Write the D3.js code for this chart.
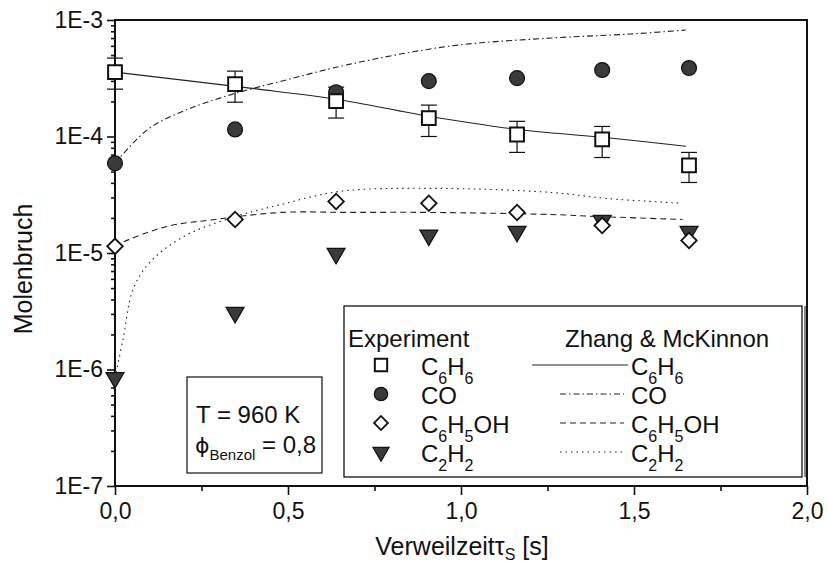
<!DOCTYPE html>
<html>
<head>
<meta charset="utf-8">
<script src="https://cdn.jsdelivr.net/npm/d3@7"></script>
<style>
  body { margin: 0; background: #fff; }
  svg text { font-family: "Liberation Sans", Arial, sans-serif; fill: #111; }
</style>
</head>
<body>
<svg id="chart" width="828" height="563"></svg>
<script>
// measured points (Verweilzeit in s, Molenbruch)
var time = [0, 0.347, 0.639, 0.907, 1.162, 1.408, 1.659];
var c6h6 = [3.57e-4, 2.81e-4, 2.01e-4, 1.44e-4, 1.04e-4, 9.46e-5, 5.66e-5];
var c6h6Hi = [4.71e-4, 3.64e-4, 2.65e-4, 1.86e-4, 1.35e-4, 1.22e-4, 7.3e-5];
var c6h6Lo = [2.55e-4, 1.97e-4, 1.44e-4, 1.0e-4, 7.3e-5, 6.6e-5, 4.03e-5];
var co = [5.89e-5, 1.15e-4, 2.40e-4, 2.99e-4, 3.17e-4, 3.72e-4, 3.87e-4];
var phenol = [1.14e-5, 1.94e-5, 2.77e-5, 2.67e-5, 2.23e-5, 1.72e-5, 1.28e-5];
var c2h2 = [8.5e-7, 3.08e-6, 9.9e-6, 1.42e-5, 1.53e-5, 1.90e-5, 1.53e-5];

// model (Zhang & McKinnon)
var c6h6ModelT = [0, 0.39, 0.639, 0.907, 1.162, 1.408, 1.65];
var c6h6Model = [3.57e-4, 2.60e-4, 2.09e-4, 1.49e-4, 1.15e-4, 9.86e-5, 8.24e-5];
var coModelT = [0, 0.02, 0.10, 0.21, 0.34, 0.48, 0.68, 0.97, 1.26, 1.49, 1.65];
var coModel = [5.89e-5, 6.9e-5, 1.18e-4, 1.71e-4, 2.31e-4, 2.98e-4, 4.18e-4, 5.98e-4, 7.0e-4, 7.58e-4, 8.2e-4];
var phenolModelT = [0, 0.02, 0.15, 0.29, 0.48, 0.68, 0.91, 1.26, 1.39, 1.64];
var phenolModel = [1.14e-5, 1.23e-5, 1.69e-5, 1.94e-5, 2.23e-5, 2.23e-5, 2.23e-5, 2.14e-5, 2.06e-5, 1.94e-5];
var c2h2ModelT = [0, 0.023, 0.052, 0.10, 0.20, 0.34, 0.48, 0.65, 0.91, 1.26, 1.42, 1.64];
var c2h2Model = [8.5e-7, 1.80e-6, 4.85e-6, 8.28e-6, 1.39e-5, 2.02e-5, 2.61e-5, 3.38e-5, 3.59e-5, 3.31e-5, 2.94e-5, 2.67e-5];

var xTicks = [0, 0.5, 1.0, 1.5, 2.0];
var xMinor = [0.25, 0.75, 1.25, 1.75];
var yTicks = [1e-7, 1e-6, 1e-5, 1e-4, 1e-3];
var legendNames = ["C_6H_6", "CO", "C_6H_5OH", "C_2H_2"];

var svg = d3.select("#chart");
var pLeft = 115, pRight = 807, pTop = 20, pBottom = 486;

var x = d3.scaleLinear().domain([0, 2]).range([pLeft, pRight]);
var y = d3.scaleLog().domain([1e-7, 1e-3]).range([pBottom, pTop]);

// minor y ticks 2..9 per decade
var yMinor = [];
yTicks.slice(0, -1).forEach(function (d) {
    for (var k = 2; k <= 9; k++) yMinor.push(d * k);
});

// axes
var gx = svg.append("g").attr("transform", "translate(0," + pBottom + ")");
gx.append("g").call(d3.axisBottom(x).tickValues(xMinor).tickSize(5).tickFormat(""));
gx.append("g").call(d3.axisBottom(x).tickValues(xTicks).tickSize(9).tickPadding(8)
    .tickFormat(function (d) { return d3.format(".1f")(d).replace(".", ","); }));
gx.selectAll(".domain").remove();

var gy = svg.append("g").attr("transform", "translate(" + pLeft + ",0)");
gy.append("g").call(d3.axisLeft(y).tickValues(yMinor).tickSize(4).tickFormat(""));
gy.append("g").call(d3.axisLeft(y).tickValues(yTicks).tickSize(8).tickPadding(4)
    .tickFormat(function (d) { return "1E" + Math.round(Math.log10(d)); }));
gy.selectAll(".domain").remove();

svg.selectAll(".tick line").attr("stroke", "#111").attr("stroke-width", 1.6);
svg.selectAll(".tick text").style("font-size", "23px").attr("fill", "#111");

// frame
svg.append("rect")
    .attr("x", pLeft).attr("y", pTop)
    .attr("width", pRight - pLeft).attr("height", pBottom - pTop)
    .attr("fill", "none").attr("stroke", "#111").attr("stroke-width", 2);

// model lines
var line = d3.line()
    .x(function (d) { return x(d[0]); })
    .y(function (d) { return y(d[1]); })
    .curve(d3.curveCatmullRom.alpha(0.5));

var models = [
    {t: c6h6ModelT, v: c6h6Model, dash: null},
    {t: coModelT, v: coModel, dash: "6,3,1.5,3"},
    {t: phenolModelT, v: phenolModel, dash: "6,4"},
    {t: c2h2ModelT, v: c2h2Model, dash: "1.5,4"}
];
models.forEach(function (m) {
    svg.append("path")
        .datum(d3.zip(m.t, m.v))
        .attr("d", line)
        .attr("fill", "none")
        .attr("stroke", "#222")
        .attr("stroke-width", 1.1)
        .attr("stroke-dasharray", m.dash);
});

// error bars for benzene
var errs = d3.zip(time, c6h6Lo, c6h6Hi);
var eb = svg.append("g").attr("stroke", "#111").attr("stroke-width", 1.2);
eb.selectAll("line.v").data(errs).enter().append("line")
    .attr("x1", function (d) { return x(d[0]); }).attr("x2", function (d) { return x(d[0]); })
    .attr("y1", function (d) { return y(d[1]); }).attr("y2", function (d) { return y(d[2]); });
[1, 2].forEach(function (k) {
    eb.selectAll("line.c" + k).data(errs).enter().append("line")
        .attr("x1", function (d) { return x(d[0]) - 8; }).attr("x2", function (d) { return x(d[0]) + 8; })
        .attr("y1", function (d) { return y(d[k]); }).attr("y2", function (d) { return y(d[k]); });
});

// marker styles
var markers = [
    {type: d3.symbolSquare, size: 190, rot: 0, fill: "#fff", sw: 2},
    {type: d3.symbolCircle, size: 175, rot: 0, fill: "#3a3a3a", sw: 1.2},
    {type: d3.symbolSquare, size: 120, rot: 45, fill: "#fff", sw: 1.8},
    {type: d3.symbolTriangle, size: 140, rot: 180, fill: "#3a3a3a", sw: 1.2}
];
var series = [c6h6, co, phenol, c2h2];

// draw triangles and circles first so open symbols stay visible like in the original
[3, 1, 2, 0].forEach(function (i) {
    var mk = markers[i];
    svg.append("g").selectAll("path").data(d3.zip(time, series[i])).enter().append("path")
        .attr("d", d3.symbol().type(mk.type).size(mk.size))
        .attr("transform", function (d) {
            return "translate(" + x(d[0]) + "," + y(d[1]) + ") rotate(" + mk.rot + ")";
        })
        .attr("fill", mk.fill).attr("stroke", "#111").attr("stroke-width", mk.sw);
});

// text with subscripts, "_" marks a one char subscript
function subText(sel, str, size, subSize, shift) {
    var parts = str.split(/(_.)/).filter(function (p) { return p.length; });
    var down = false;
    parts.forEach(function (p) {
        if (p[0] === "_") {
            sel.append("tspan").text(p.slice(1)).style("font-size", subSize + "px").attr("dy", down ? 0 : shift);
            down = true;
        } else {
            sel.append("tspan").text(p).style("font-size", size + "px").attr("dy", down ? -shift : 0);
            down = false;
        }
    });
}

// legend
var lg = svg.append("g");
lg.append("rect").attr("x", 344).attr("y", 306).attr("width", 458).attr("height", 171)
    .attr("fill", "#fff").attr("stroke", "#111").attr("stroke-width", 1.3);
lg.append("line").attr("x1", 805).attr("x2", 805).attr("y1", 306).attr("y2", 477)
    .attr("stroke", "#111").attr("stroke-width", 1);
lg.append("text").attr("x", 348).attr("y", 347).style("font-size", "24px").text("Experiment");
lg.append("text").attr("x", 565).attr("y", 347).style("font-size", "24px").text("Zhang & McKinnon");

var rowY = [365, 394, 423, 452];
legendNames.forEach(function (name, i) {
    var mk = markers[i];
    lg.append("path").attr("d", d3.symbol().type(mk.type).size(mk.size * 0.8))
        .attr("transform", "translate(381," + rowY[i] + ") rotate(" + mk.rot + ")")
        .attr("fill", mk.fill).attr("stroke", "#111").attr("stroke-width", mk.sw);
    subText(lg.append("text").attr("x", 421).attr("y", rowY[i] + 10), name, 24, 16, 9);
    lg.append("line")
        .attr("x1", i === 0 ? 532 : 560).attr("x2", i === 0 ? 628 : 624)
        .attr("y1", rowY[i]).attr("y2", rowY[i])
        .attr("stroke", "#222").attr("stroke-width", 1.1)
        .attr("stroke-dasharray", models[i].dash);
    subText(lg.append("text").attr("x", 631).attr("y", rowY[i] + 10), name, 24, 16, 9);
});

// condition box
var cb = svg.append("g");
cb.append("rect").attr("x", 187).attr("y", 377).attr("width", 135).attr("height", 96)
    .attr("fill", "#fff").attr("stroke", "#111").attr("stroke-width", 1.2);
cb.append("text").attr("x", 196).attr("y", 423).style("font-size", "24px").text("T = 960 K");
var phi = cb.append("text").attr("x", 195).attr("y", 453).style("font-size", "24px");
phi.append("tspan").text("\u03d5").style("font-family", "DejaVu Sans").style("font-size", "22px");
phi.append("tspan").text("Benzol").style("font-size", "15px").attr("dy", 7);
phi.append("tspan").text(" = 0,8").attr("dy", -7);

// axis titles
svg.append("text")
    .attr("transform", "translate(32,269) rotate(-90)")
    .attr("text-anchor", "middle").style("font-size", "25px").text("Molenbruch");

var xt = svg.append("text").attr("x", 462).attr("y", 555)
    .attr("text-anchor", "middle").style("font-size", "25px");
xt.append("tspan").text("Verweilzeit\u03c4");
xt.append("tspan").text("S").style("font-size", "16px").attr("dy", 5);
xt.append("tspan").text(" [s]").attr("dy", -5);
</script>
</body>
</html>
